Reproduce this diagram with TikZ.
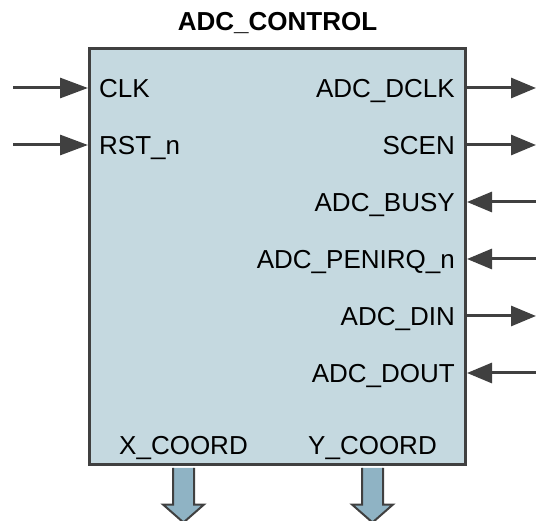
\documentclass[tikz,border=0pt]{standalone}
\usepackage{fontspec}
\setmainfont{Liberation Sans}
\usepackage{xcolor}
\definecolor{boxblue}{RGB}{197,217,224}
\definecolor{busblue}{RGB}{143,179,196}
\definecolor{edgegray}{RGB}{64,64,64}
\usetikzlibrary{positioning,calc,arrows.meta}

\begin{document}
\begin{tikzpicture}[x=1pt, y=-1pt, >={Triangle[length=28pt,width=20pt]}, block/.style = {draw=edgegray, fill=boxblue, line width=3pt, minimum width=376pt, minimum height=416pt, inner sep=0pt}, port/.style = {inner sep=0pt, text height=18.6pt, text depth=0pt, font=\fontsize{26}{30}\selectfont}, sig/.style = {->, draw=edgegray, line width=3pt}, rsig/.style = {sig, >={Triangle[length=25pt,width=20pt]}}, bus/.style = {draw=edgegray, fill=busblue, line width=2pt, line join=miter}]

\useasboundingbox (0,0) rectangle (536,521);

\node[block] (adc) at (277.5,257) {};
\node[port, font=\fontsize{26}{30}\selectfont\bfseries, anchor=base] (title) at ([yshift=17pt]adc.north) {ADC\_CONTROL};

% port points on the box
\coordinate (clk) at (adc.west |- 0,88);
\coordinate (rst) at (adc.west |- 0,145);
\coordinate (dclk) at (adc.east |- 0,88);
\coordinate (scen) at (adc.east |- 0,145);
\coordinate (busy) at (adc.east |- 0,202);
\coordinate (penirq) at (adc.east |- 0,259);
\coordinate (din) at (adc.east |- 0,316);
\coordinate (dout) at (adc.east |- 0,373);
\coordinate (xc) at (adc.south -| 183.5,0);
\coordinate (yc) at (adc.south -| 372.5,0);

\node[port, right=11pt of clk] (clklbl) {CLK};
\node[port, right=11pt of rst] (rstlbl) {RST\_n};
\node[port, left=12pt of dclk] (dclklbl) {ADC\_DCLK};
\node[port, left=12pt of scen] (scenlbl) {SCEN};
\node[port, left=12pt of busy] (busylbl) {ADC\_BUSY};
\node[port, left=12pt of penirq] (penirqlbl) {ADC\_PENIRQ\_n};
\node[port, left=12pt of din] (dinlbl) {ADC\_DIN};
\node[port, left=12pt of dout] (doutlbl) {ADC\_DOUT};
\node[port, above=12pt of xc] (xlbl) {X\_COORD};
\node[port, above=12pt of yc] (ylbl) {Y\_COORD};

% free ends
\coordinate (clkin) at (13,88);
\coordinate (rstin) at (13,145);
\foreach \p in {dclk,scen,busy,penirq,din,dout}
  \coordinate (\p out) at (\p -| 536,0);

\draw[sig] (clkin) -- (clk);
\draw[sig] (rstin) -- (rst);
\draw[rsig] (dclk) -- (dclkout);
\draw[rsig] (scen) -- (scenout);
\draw[rsig] (busyout) -- (busy);
\draw[rsig] (penirqout) -- (penirq);
\draw[rsig] (din) -- (dinout);
\draw[rsig] (doutout) -- (dout);

% bus outputs
\foreach \b in {xc,yc}
  \filldraw[bus] ($(\b)+(-10.5,1.5)$) -- ++(0,36.5) -- ++(-10,0) -- ++(20.5,18) -- ++(20.5,-18) -- ++(-10,0) -- ++(0,-36.5);
\end{tikzpicture}
\end{document}
